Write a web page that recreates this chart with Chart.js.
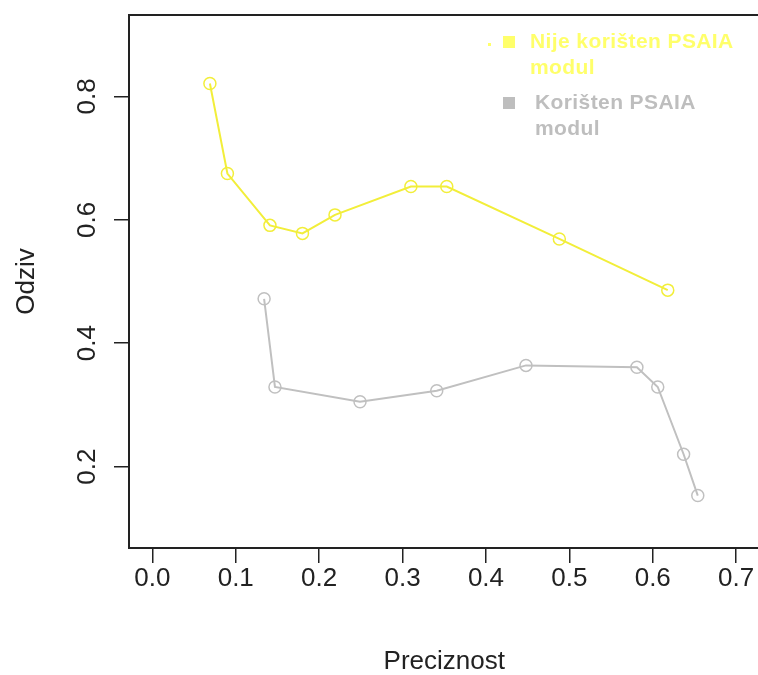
<!DOCTYPE html>
<html>
<head>
<meta charset="utf-8">
<script src="https://cdn.jsdelivr.net/npm/chart.js@4/dist/chart.umd.min.js"></script>
<style>
  html, body { margin: 0; padding: 0; background: #fff; overflow: hidden; }
  #clip { width: 758px; height: 675px; overflow: hidden; }
  #prChart { display: block; }
</style>
</head>
<body>
<div id="clip"><canvas id="prChart" width="767" height="675"></canvas></div>
<script>
// Precision / recall values
const noPsaiaX = [0.069, 0.090, 0.141, 0.180, 0.219, 0.310, 0.353, 0.488, 0.618];
const noPsaiaY = [0.821, 0.675, 0.591, 0.578, 0.608, 0.654, 0.654, 0.569, 0.486];
const psaiaX = [0.134, 0.147, 0.249, 0.341, 0.448, 0.581, 0.606, 0.637, 0.654];
const psaiaY = [0.472, 0.329, 0.305, 0.323, 0.364, 0.361, 0.329, 0.220, 0.153];

const xTicks = [0.0, 0.1, 0.2, 0.3, 0.4, 0.5, 0.6, 0.7];
const yTicks = [0.2, 0.4, 0.6, 0.8];

const seriesNames = ['Nije korišten PSAIA modul', 'Korišten PSAIA modul'];
const legendLines = [['Nije korišten PSAIA', 'modul'], ['Korišten PSAIA', 'modul']];

const YELLOW = '#f2ee3a';
const GRAY = '#c0c0c0';
const FONT = 'Arial, "Liberation Sans", sans-serif';

function toPoints(xs, ys) {
  return xs.map((x, i) => ({ x: x, y: ys[i] }));
}

// R style frame (its right side falls outside the picture) and the legend in the top right
const boxAndLegend = {
  id: 'boxAndLegend',
  afterDraw(chart) {
    const { ctx, chartArea: a } = chart;
    ctx.save();
    ctx.strokeStyle = '#222';
    ctx.lineWidth = 2;
    ctx.beginPath();
    ctx.moveTo(chart.width, a.top);
    ctx.lineTo(a.left, a.top);
    ctx.lineTo(a.left, a.bottom);
    ctx.lineTo(chart.width, a.bottom);
    ctx.stroke();

    ctx.font = 'bold 21px ' + FONT;
    ctx.letterSpacing = '0.4px';
    ctx.textBaseline = 'middle';
    ctx.textAlign = 'left';
    const entries = [
      { color: '#ffff6a', top: 42, textX: 530 },
      { color: '#bebebe', top: 103, textX: 535 }
    ];
    // little stray dot left of the first key
    ctx.fillStyle = '#ffff6a';
    ctx.fillRect(488, 43, 3, 3);
    entries.forEach((e, i) => {
      ctx.fillStyle = e.color;
      ctx.fillRect(503, e.top - 6, 12, 12);
      legendLines[i].forEach((line, j) => {
        ctx.fillText(line, e.textX, e.top + j * 26);
      });
    });
    ctx.restore();
  }
};

const tickFont = { family: FONT, size: 26, lineHeight: 1 };

function makeSeries(label, xs, ys, color) {
  return {
    label: label,
    data: toPoints(xs, ys),
    borderColor: color,
    backgroundColor: 'rgba(0,0,0,0)',
    borderWidth: 2,
    pointRadius: 6,
    pointBorderWidth: 1.5,
    pointBorderColor: color,
    pointBackgroundColor: 'rgba(0,0,0,0)',
    tension: 0
  };
}

new Chart(document.getElementById('prChart'), {
  type: 'line',
  data: {
    datasets: [
      makeSeries(seriesNames[0], noPsaiaX, noPsaiaY, YELLOW),
      makeSeries(seriesNames[1], psaiaX, psaiaY, GRAY)
    ]
  },
  options: {
    responsive: false,
    devicePixelRatio: 1,
    animation: false,
    layout: { padding: { top: 15, right: 4, left: 0, bottom: 0 } },
    plugins: {
      legend: { display: false },
      tooltip: { enabled: false }
    },
    scales: {
      x: {
        type: 'linear',
        min: -0.028,
        max: 0.728,
        afterBuildTicks: s => { s.ticks = xTicks.map(v => ({ value: v })); },
        afterFit: s => { s.height = 127; s.paddingLeft = 0; s.paddingRight = 0; },
        grid: { display: true, drawOnChartArea: false, drawTicks: true, tickLength: 15, color: '#222', lineWidth: 1.5 },
        border: { display: true, color: '#222', width: 2 },
        ticks: {
          autoSkip: false,
          maxRotation: 0,
          padding: 3,
          color: '#222',
          font: tickFont,
          callback: v => Number(v).toFixed(1)
        },
        title: {
          display: true,
          text: 'Preciznost',
          color: '#222',
          font: { family: FONT, size: 26, lineHeight: 1 },
          padding: { top: 0, bottom: 0 }
        }
      },
      y: {
        type: 'linear',
        min: 0.068,
        max: 0.932,
        afterBuildTicks: s => { s.ticks = yTicks.map(v => ({ value: v })); },
        afterFit: s => { s.width = 129; s.paddingTop = 0; s.paddingBottom = 0; },
        grid: { display: true, drawOnChartArea: false, drawTicks: true, tickLength: 15, color: '#222', lineWidth: 1.5 },
        border: { display: true, color: '#222', width: 2 },
        ticks: {
          autoSkip: false,
          minRotation: 90,
          maxRotation: 90,
          crossAlign: 'center',
          padding: 8,
          color: '#222',
          font: tickFont,
          callback: v => Number(v).toFixed(1)
        },
        title: {
          display: true,
          text: 'Odziv',
          color: '#222',
          font: { family: FONT, size: 26, lineHeight: 1 },
          padding: { top: 14, bottom: 0 }
        }
      }
    }
  },
  plugins: [boxAndLegend]
});
</script>
</body>
</html>
